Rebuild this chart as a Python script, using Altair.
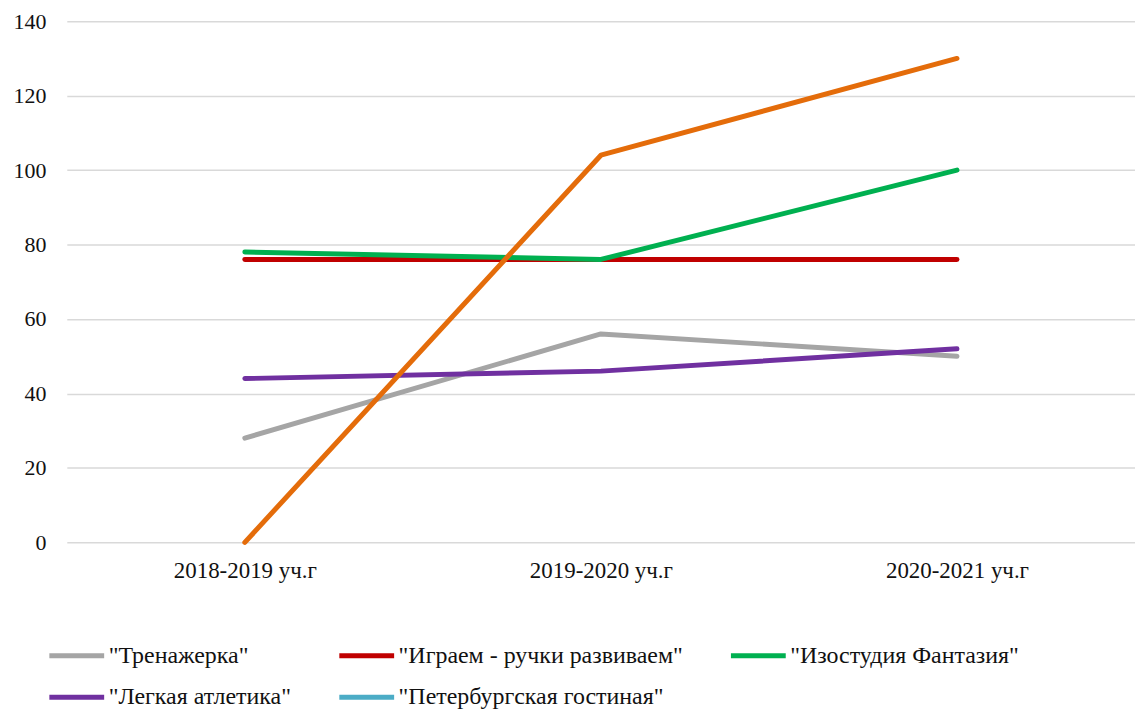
import altair as alt
import pandas as pd

years = ["2018-2019 уч.г", "2019-2020 уч.г", "2020-2021 уч.г"]

series_names = [
    '"Тренажерка"',
    '"Играем - ручки развиваем"',
    '"Изостудия Фантазия"',
    '"Легкая атлетика"',
    '"Петербургская гостиная"',
    "Ряд 6",
]
series_colors = ["#A5A5A5", "#C00000", "#00B050", "#7030A0", "#4BACC6", "#E46C0A"]

trenazherka = [28, 56, 50]
igraem = [76, 76, 76]
izostudiya = [78, 76, 100]
legkaya = [44, 46, 52]
peterburg = [None, None, None]
series6 = [0, 104, 130]

all_values = [trenazherka, igraem, izostudiya, legkaya, peterburg, series6]

rows = []
for name, vals in zip(series_names, all_values):
    for i, (yr, v) in enumerate(zip(years, vals)):
        rows.append({"year": yr, "series": name, "value": v, "order": i})
df = pd.DataFrame(rows)

FONT = "'Liberation Serif', serif"

pad_sp = "\u2003" * 3
label_expr = (
    "indexof(datum.label, 'Легкая') >= 0 ? datum.label + '" + pad_sp + "' : datum.label"
)

chart = (
    alt.Chart(df)
    .mark_line(strokeWidth=5, strokeCap="round", strokeJoin="round")
    .encode(
        x=alt.X(
            "year:N",
            sort=years,
            scale=alt.Scale(type="point", padding=0.5),
            axis=alt.Axis(
                title=None,
                labelAngle=0,
                ticks=False,
                domain=False,
                grid=False,
                labelFont=FONT,
                labelFontSize=23,
                labelColor="#111111",
                labelPadding=17,
            ),
        ),
        y=alt.Y(
            "value:Q",
            scale=alt.Scale(domain=[0, 140], nice=False),
            axis=alt.Axis(
                title=None,
                values=[0, 20, 40, 60, 80, 100, 120, 140],
                ticks=False,
                domain=False,
                gridColor="#D9D9D9",
                gridWidth=1.5,
                labelFont=FONT,
                labelFontSize=22,
                labelColor="#111111",
                labelPadding=21,
            ),
        ),
        color=alt.Color(
            "series:N",
            scale=alt.Scale(domain=series_names, range=series_colors),
            legend=alt.Legend(
                title=None,
                values=series_names[:5],
                orient="none",
                direction="horizontal",
                legendX=-20,
                legendY=623,
                columns=3,
                columnPadding=37,
                rowPadding=16,
                symbolType="M-1,0H4",
                symbolSize=484,
                symbolStrokeWidth=5,
                labelOffset=35,
                labelFont=FONT,
                labelFontSize=24,
                labelColor="#111111",
                labelLimit=600,
                labelExpr=label_expr,
            ),
        ),
        order="order:Q",
    )
    .properties(
        width=1072,
        height=523,
        autosize=alt.AutoSizeParams(type="none"),
        padding={"left": 59, "top": 12, "right": 0, "bottom": 170},
    )
    .configure_view(stroke=None)
)

chart.save("out.html", embed_options={"renderer": "svg", "actions": False})
